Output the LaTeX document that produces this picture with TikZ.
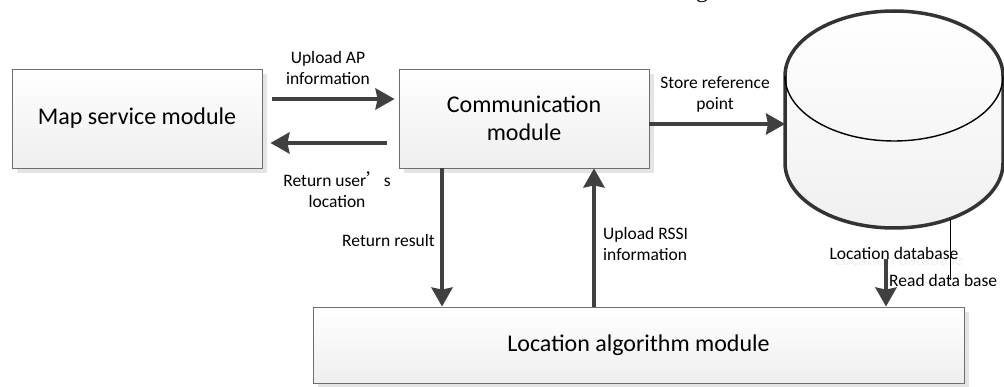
\documentclass[tikz,border=0pt]{standalone}
\usepackage{fontspec}
\setmainfont{Carlito}
\newfontfamily\cjk{Noto Sans CJK SC}
\newfontfamily\capfont{Liberation Serif}
\usetikzlibrary{arrows.meta,calc,shadows}
\definecolor{arrowgray}{HTML}{404040}
\definecolor{edgegray}{HTML}{6E6E6E}
\definecolor{shadowgray}{HTML}{E4E4E4}
\definecolor{dbedge}{HTML}{333333}
\begin{document}
\begin{tikzpicture}[x=1pt,y=1pt,
  module/.style={draw=edgegray, line width=0.9pt, top color=white, bottom color=gray!13,
    general shadow={fill=shadowgray, shadow xshift=5pt, shadow yshift=-5pt},
    align=center, font=\fontsize{24}{28}\selectfont, inner sep=0pt},
  flow/.style={draw=arrowgray, line width=4pt,
    -{Stealth[length=19pt, width=21pt, inset=2pt]}},
  lbl/.style={font=\fontsize{17.5}{21}\selectfont, inner sep=0pt, text=black}]
\useasboundingbox (0,0) rectangle (1004,386);

% modules
\node[module, minimum width=250pt, minimum height=99pt] (map) at (137,267.5) {Map service module};
\node[module, minimum width=250pt, minimum height=99pt] (comm) at (524,267.5) {Communication\\module};
\node[module, minimum width=651pt, minimum height=76pt] (alg) at (638.5,41) {Location algorithm module};

% location database cylinder
\draw[line width=3.5pt, draw=dbedge, top color=white, bottom color=gray!12]
  (785,310) arc[start angle=180, end angle=0, x radius=109pt, y radius=65pt]
  -- (1003,223) arc[start angle=0, end angle=-180, x radius=109pt, y radius=65pt]
  -- cycle;
\draw[line width=1.4pt, draw=black]
  (785,310) arc[start angle=180, end angle=360, x radius=109pt, y radius=65pt];
\coordinate (dbw) at (785,262);
\coordinate (dbfoot) at (950,167.2);
\coordinate (rdend) at (950,106);
\coordinate (rdx) at (886,0);

\node[lbl, text=gray!12] (dbghost) at (899,127) {Location database};
\node[lbl] (dbl) at (894,133) {Location database};

% connectors
\draw[flow] ([xshift=10pt,yshift=19.5pt]map.east) -- ([xshift=-4pt,yshift=19.5pt]comm.west);
\draw[flow] ([xshift=-12pt,yshift=-24.5pt]comm.west) -- ([xshift=8pt,yshift=-24.5pt]map.east);
\draw[flow] ([yshift=-5.5pt]comm.east) -- (dbw);
\coordinate (rr) at ([xshift=-82pt]comm.south);
\coordinate (ur) at ([xshift=70pt]comm.south);
\draw[flow] (rr) -- (rr |- alg.north);
\draw[flow] (ur |- alg.north) -- (ur);
\draw[flow] (dbl.south -| rdx) -- (alg.north -| rdx);
\draw[line width=0.8pt, black] (dbfoot) -- (rdend);

% labels
\node[lbl, align=center] (lupl) at (328,318) {Upload AP\\information};
\node[lbl, align=center] (lret) at (337,196) {Return user{\cjk ’}s\\location};
\node[lbl, align=center] (lsto) at (715,292) {Store reference\\point};
\node[lbl, anchor=east] (lres) at (435,146) {Return result};
\node[lbl, anchor=west, align=left] (lrssi) at (603,142) {Upload RSSI\\information};
\node[lbl, anchor=west] (lread) at (889,106) {Read data base};

% edge of a line of text cut by the top border
\begin{scope}
  \clip (0,0) rectangle (1004,386);
  \node[anchor=base west, inner sep=0pt, font=\capfont\fontsize{24}{24}\selectfont] (capg) at (696,388) {g};
\end{scope}
\end{tikzpicture}
\end{document}
